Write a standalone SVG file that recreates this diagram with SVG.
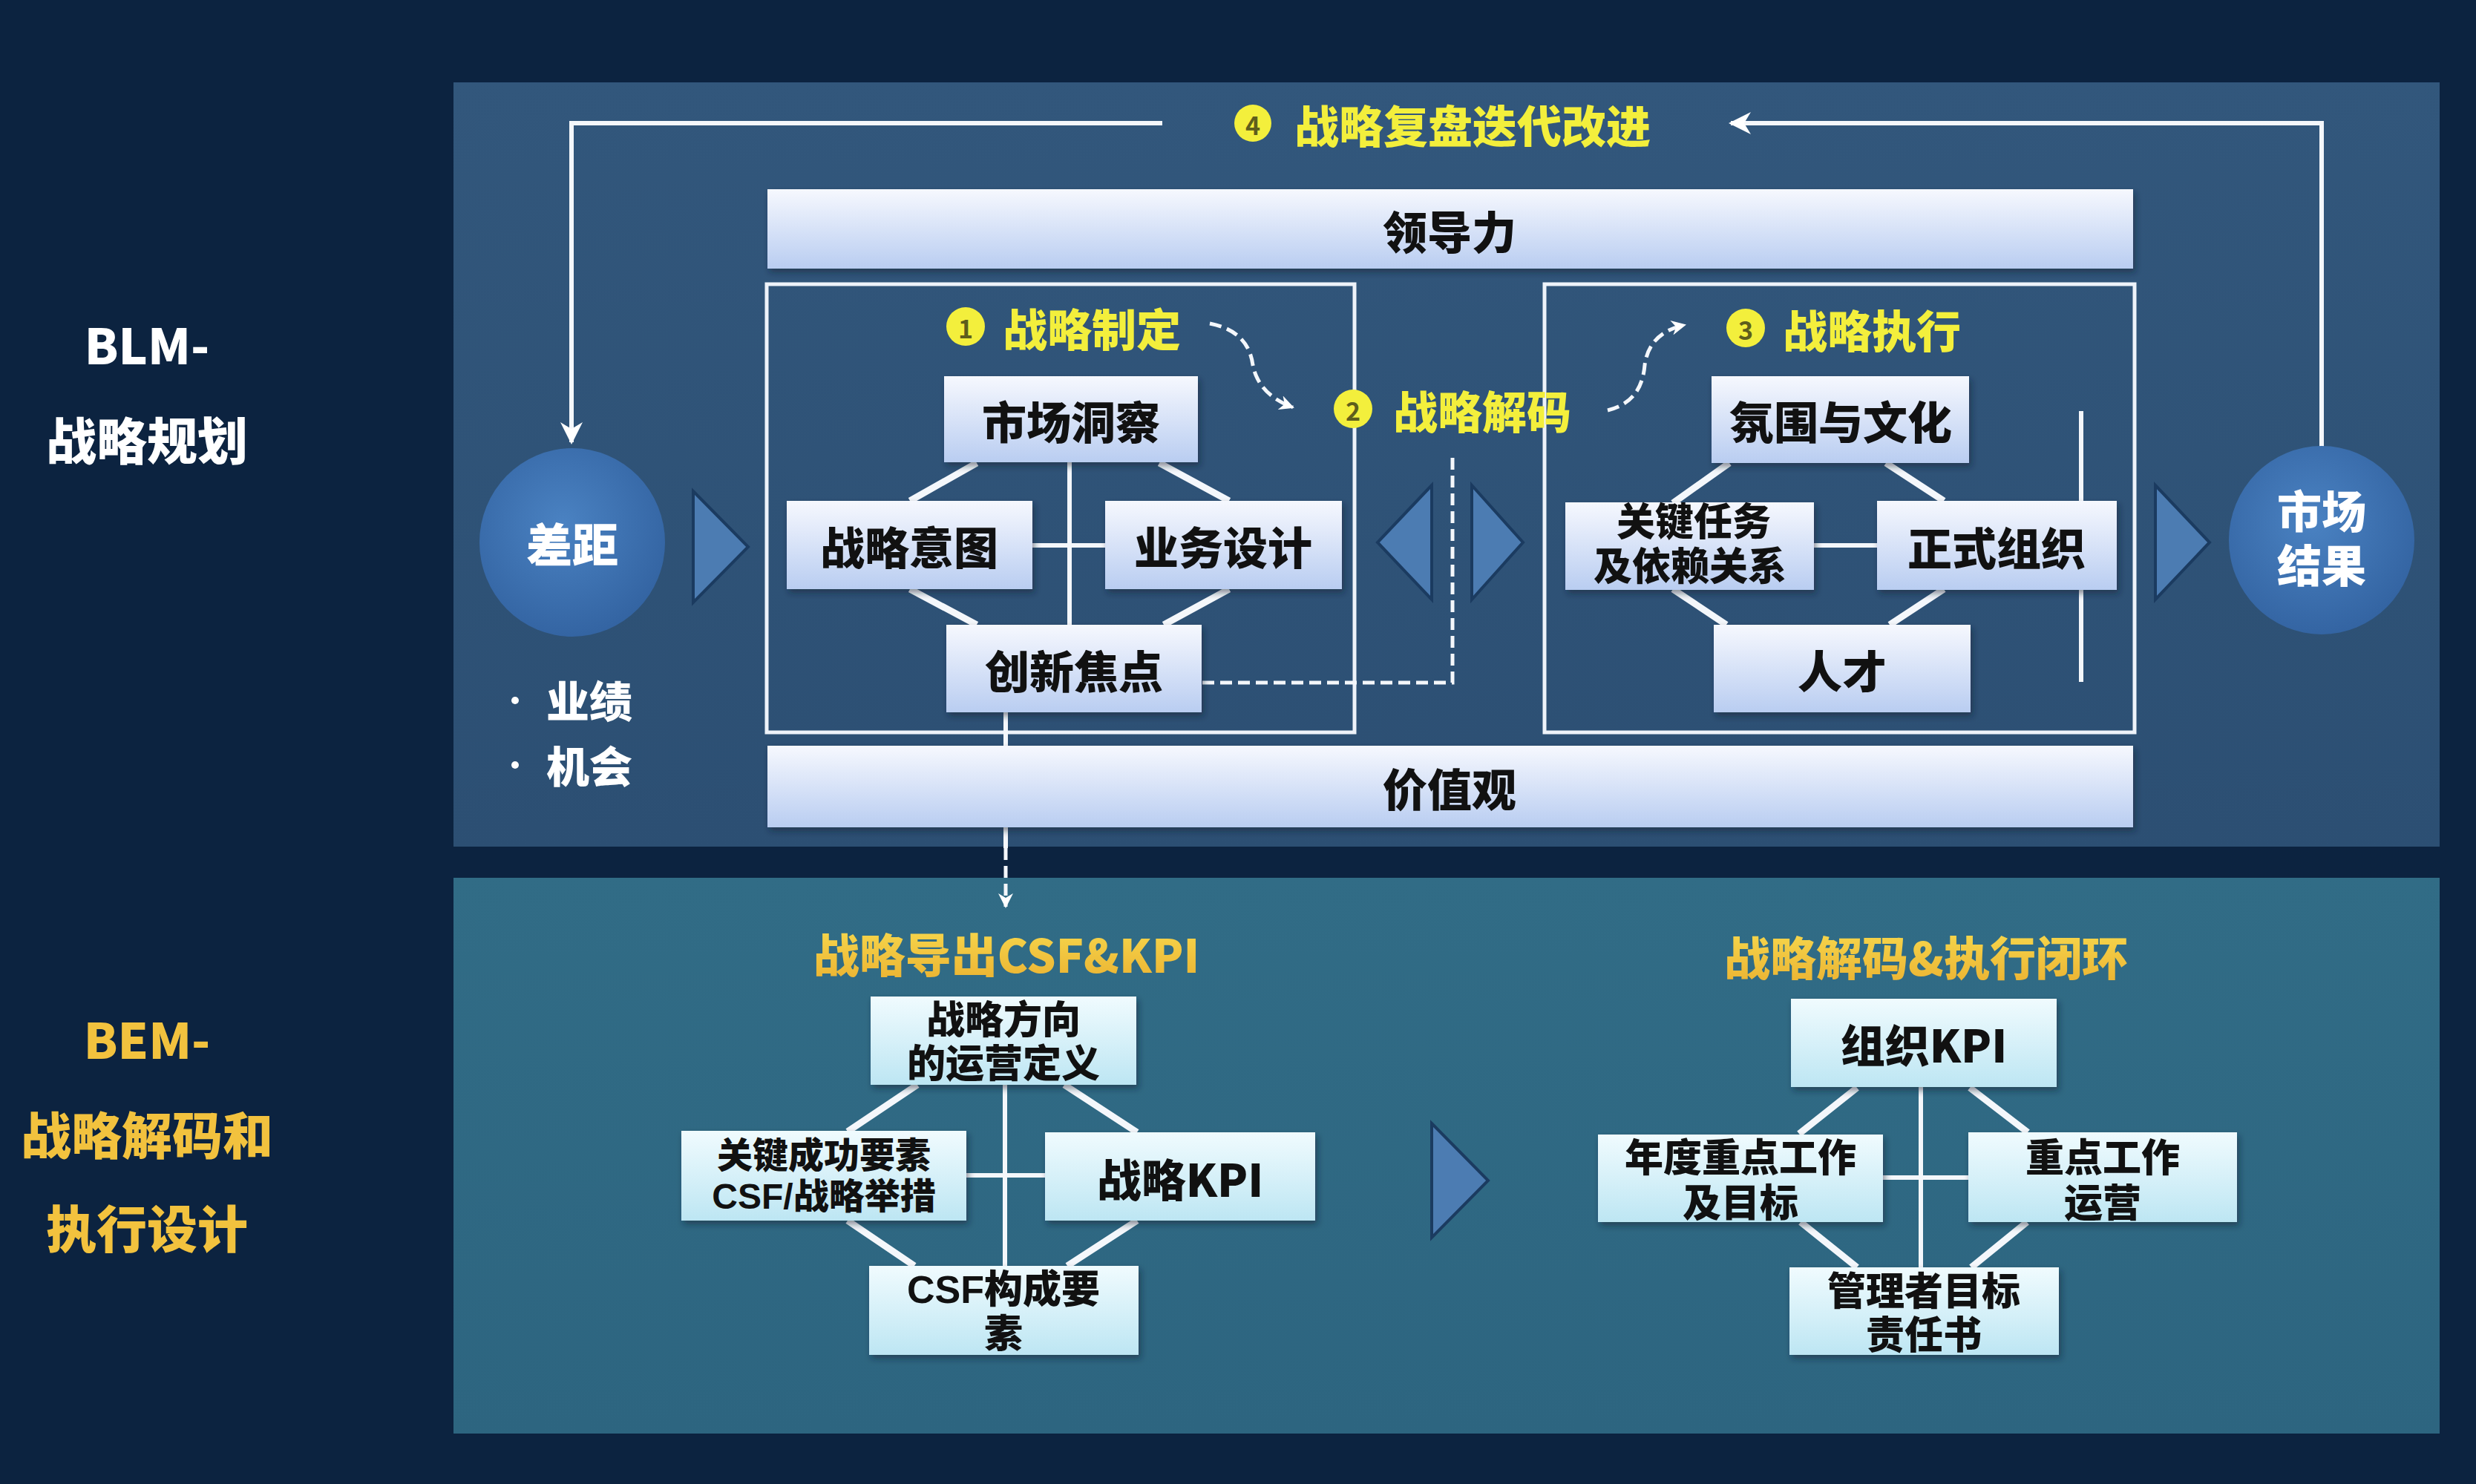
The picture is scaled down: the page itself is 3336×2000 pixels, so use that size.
<svg xmlns="http://www.w3.org/2000/svg" width="3336" height="2000" viewBox="0 0 3336 2000">
<defs>
<linearGradient id="gTop" x1="0" y1="0" x2="0" y2="1"><stop offset="0" stop-color="#f6f8fe"/><stop offset="1" stop-color="#b9cdf1"/></linearGradient>
<linearGradient id="gBot" x1="0" y1="0" x2="0" y2="1"><stop offset="0" stop-color="#f0fbfe"/><stop offset="1" stop-color="#bde6f3"/></linearGradient>
<radialGradient id="gCirc" cx="0.45" cy="0.4" r="0.65"><stop offset="0" stop-color="#4a82c2"/><stop offset="1" stop-color="#3262a0"/></radialGradient>
<linearGradient id="gGold" x1="0" y1="0" x2="0" y2="1"><stop offset="0" stop-color="#f8dc50"/><stop offset="1" stop-color="#eab030"/></linearGradient>
<linearGradient id="gPanel1" x1="0" y1="0" x2="0" y2="1"><stop offset="0" stop-color="#32577c"/><stop offset="1" stop-color="#2c4f73"/></linearGradient>
<linearGradient id="gPanel2" x1="0" y1="0" x2="0" y2="1"><stop offset="0" stop-color="#316c86"/><stop offset="1" stop-color="#2d6580"/></linearGradient>
<filter id="sh" x="-10%" y="-10%" width="120%" height="130%"><feDropShadow dx="3" dy="5" stdDeviation="4" flood-color="#0a1a30" flood-opacity="0.5"/></filter>
<marker id="ah" viewBox="0 0 10 10" refX="9" refY="5" markerWidth="5" markerHeight="5" orient="auto-start-reverse" markerUnits="strokeWidth"><path d="M0,0 L10,5 L0,10 L3,5 Z" fill="#ffffff"/></marker>
<marker id="ah2" viewBox="0 0 10 10" refX="9" refY="5" markerWidth="4" markerHeight="4" orient="auto" markerUnits="strokeWidth"><path d="M0,0 L10,5 L0,10 L3,5 Z" fill="#ffffff"/></marker>
</defs>
<style>
text{font-family:"Noto Sans CJK SC","Noto Sans",sans-serif;font-weight:900;text-anchor:middle;dominant-baseline:central}
text.ml{font-family:"Liberation Sans","Noto Sans CJK SC",sans-serif;font-weight:900}
.bx{fill:url(#gTop);filter:url(#sh)}
.bb{fill:url(#gBot);filter:url(#sh)}
.nt{fill:#111111;font-size:60px}
.nb{fill:#111111;font-size:52px}
.yl{fill:#f3ef3c;font-size:60px}
.gd{fill:url(#gGold);font-size:62px}
.wt{fill:#ffffff}
.ln{stroke:#f4f7fb;stroke-width:6;fill:none}
.dg{stroke:#f4f7fb;stroke-width:9;fill:none}
.fr{stroke:#eef3fa;stroke-width:5;fill:none}
.ds{stroke:#f4f7fb;stroke-width:5;fill:none;stroke-dasharray:16 8}
.tri{fill:#4c7cb2;stroke:#1b3b60;stroke-width:4;stroke-linejoin:miter}
.num{fill:#f3ef3c}
.numt{fill:#5e5e1c;font-size:34px;font-weight:700}
</style>
<rect x="0" y="0" width="3336" height="2000" fill="#0c2340"/>
<rect x="611" y="111" width="2676" height="1030" fill="url(#gPanel1)"/>
<rect x="611" y="1183" width="2676" height="749" fill="url(#gPanel2)"/>

<g id="labels">
<text x="198" y="462" class="wt" style="font-size:66px">BLM-</text>
<text x="198" y="590" class="wt" style="font-size:68px">战略规划</text>
<text x="198" y="1398" style="font-size:66px;fill:#f2c23e">BEM-</text>
<text x="198" y="1526" style="font-size:68px;fill:#f2c23e">战略解码和</text>
<text x="198" y="1652" style="font-size:68px;fill:#f2c23e">执行设计</text>
<circle cx="694" cy="944" r="5" fill="#ffffff"/>
<text x="794" y="942" class="wt" style="font-size:58px">业绩</text>
<circle cx="694" cy="1031" r="5" fill="#ffffff"/>
<text x="794" y="1030" class="wt" style="font-size:58px">机会</text>
</g>

<g id="connectors">
<path class="ln" d="M1566,166 H770 V596" marker-end="url(#ah)"/>
<path class="ln" d="M3128,602 V166 H2332" marker-end="url(#ah)"/>
<path class="fr" d="M1033,383 H1825 V987 H1033 Z"/>
<path class="fr" d="M2081,383 H2876 V987 H2081 Z"/>
<path class="ds" d="M1630,436 Q1682,446 1688,492 Q1696,532 1742,549" marker-end="url(#ah2)"/>
<path class="ds" d="M2166,553 Q2212,542 2216,492 Q2222,448 2270,438" marker-end="url(#ah2)"/>
<path class="ds" d="M1620,920 H1957 V613"/>
<path class="ln" d="M1355,960 V1143"/>
<path class="ds" d="M1355,1143 V1222" marker-end="url(#ah2)"/>
<path class="ln" d="M1441,623 V842 M1391,735 H1489"/>
<path class="dg" d="M1316,624 L1226,675 M1562,624 L1656,675 M1226,794 L1316,842 M1656,794 L1568,842"/>
<path class="ln" d="M2444,735 H2529 M2804,554 V919"/>
<path class="dg" d="M2330,624 L2254,678 M2541,624 L2619,675 M2254,794 L2326,842 M2619,794 L2546,842"/>
<path class="ln" d="M1354,1462 V1706 M1302,1584 H1408"/>
<path class="dg" d="M1236,1462 L1142,1525 M1434,1462 L1532,1526 M1142,1645 L1232,1706 M1532,1645 L1438,1706"/>
<path class="ln" d="M2588,1465 V1708 M2537,1587 H2652"/>
<path class="dg" d="M2502,1466 L2424,1528 M2654,1466 L2732,1526 M2426,1647 L2502,1708 M2731,1647 L2656,1708"/>
</g>

<g id="loop-label">
<circle cx="1688" cy="166" r="25" class="num"/>
<text x="1688" y="167" class="numt">4</text>
<text x="1984" y="166" class="yl" style="font-size:60px">战略复盘迭代改进</text>
</g>

<g id="leadership"><rect x="1034" y="255" width="1840" height="107" class="bx"/><text x="1953" y="309" class="nt">领导力</text></g>
<g id="values"><rect x="1034" y="1005" width="1840" height="110" class="bx"/><text x="1953" y="1060" class="nt">价值观</text></g>

<g id="gap"><ellipse cx="771" cy="731" rx="125" ry="127" fill="url(#gCirc)"/><text x="771" y="731" class="wt" style="font-size:62px">差距</text></g>
<g id="market-result"><ellipse cx="3128" cy="728" rx="125" ry="127" fill="url(#gCirc)"/><text class="wt ml" style="font-size:60px"><tspan x="3128" y="691">市场</tspan><tspan x="3128" y="764">结果</tspan></text></g>

<g id="triangles">
<path class="tri" d="M934,662 L1008,737 L934,812 Z"/>
<path class="tri" d="M1929,654 L1856,731 L1929,808 Z"/>
<path class="tri" d="M1983,654 L2052,731 L1983,808 Z"/>
<path class="tri" d="M2904,654 L2977,731 L2904,808 Z"/>
<path class="tri" d="M1929,1514 L2005,1591 L1929,1668 Z"/>
</g>

<g id="formulate-title">
<circle cx="1301" cy="440" r="26" class="num"/><text x="1301" y="441" class="numt">1</text>
<text x="1471" y="440" class="yl">战略制定</text>
</g>
<g id="decode-title">
<circle cx="1823" cy="551" r="26" class="num"/><text x="1823" y="552" class="numt">2</text>
<text x="1997" y="551" class="yl">战略解码</text>
</g>
<g id="execute-title">
<circle cx="2352" cy="442" r="26" class="num"/><text x="2352" y="443" class="numt">3</text>
<text x="2522" y="442" class="yl">战略执行</text>
</g>

<g id="market-insight"><rect x="1272" y="507" width="342" height="116" class="bx"/><text x="1443" y="565" class="nt">市场洞察</text></g>
<g id="strategic-intent"><rect x="1060" y="675" width="331" height="119" class="bx"/><text x="1225" y="734" class="nt">战略意图</text></g>
<g id="business-design"><rect x="1489" y="675" width="319" height="119" class="bx"/><text x="1648" y="734" class="nt">业务设计</text></g>
<g id="innovation-focus"><rect x="1275" y="842" width="344" height="118" class="bx"/><text x="1447" y="901" class="nt">创新焦点</text></g>

<g id="climate-culture"><rect x="2306" y="507" width="347" height="117" class="bx"/><text x="2480" y="565" class="nt">氛围与文化</text></g>
<g id="key-tasks"><rect x="2109" y="677" width="335" height="118" class="bx"/><text class="nt ml" style="font-size:52px"><tspan x="2282" y="704">关键任务</tspan><tspan x="2277" y="764">及依赖关系</tspan></text></g>
<g id="formal-org"><rect x="2529" y="675" width="323" height="120" class="bx"/><text x="2690" y="735" class="nt">正式组织</text></g>
<g id="talent"><rect x="2309" y="842" width="346" height="118" class="bx"/><text x="2482" y="901" class="nt">人才</text></g>

<g id="csf-title"><text x="1356" y="1284" class="gd">战略导出CSF&amp;KPI</text></g>
<g id="loop-title"><text x="2595" y="1288" class="gd">战略解码&amp;执行闭环</text></g>

<g id="direction"><rect x="1173" y="1343" width="358" height="119" class="bb"/><text class="nb ml"><tspan x="1352" y="1375">战略方向</tspan><tspan x="1352" y="1434">的运营定义</tspan></text></g>
<g id="csf"><rect x="918" y="1524" width="384" height="121" class="bb"/><text class="nb ml" style="font-size:48px"><tspan x="1110" y="1557">关键成功要素</tspan><tspan x="1110" y="1612">CSF/战略举措</tspan></text></g>
<g id="strategic-kpi"><rect x="1408" y="1526" width="364" height="119" class="bb"/><text x="1590" y="1586" class="nt">战略KPI</text></g>
<g id="csf-elements"><rect x="1171" y="1706" width="363" height="120" class="bb"/><text class="nb ml"><tspan x="1352" y="1738">CSF构成要</tspan><tspan x="1352" y="1798">素</tspan></text></g>

<g id="org-kpi"><rect x="2413" y="1346" width="358" height="119" class="bb"/><text x="2592" y="1405" class="nt">组织KPI</text></g>
<g id="annual-work"><rect x="2153" y="1529" width="384" height="118" class="bb"/><text class="nb ml"><tspan x="2345" y="1561">年度重点工作</tspan><tspan x="2345" y="1622">及目标</tspan></text></g>
<g id="key-work-ops"><rect x="2652" y="1526" width="362" height="121" class="bb"/><text class="nb ml"><tspan x="2833" y="1561">重点工作</tspan><tspan x="2833" y="1622">运营</tspan></text></g>
<g id="manager-goals"><rect x="2411" y="1708" width="363" height="118" class="bb"/><text class="nb ml"><tspan x="2592" y="1741">管理者目标</tspan><tspan x="2592" y="1800">责任书</tspan></text></g>
</svg>
